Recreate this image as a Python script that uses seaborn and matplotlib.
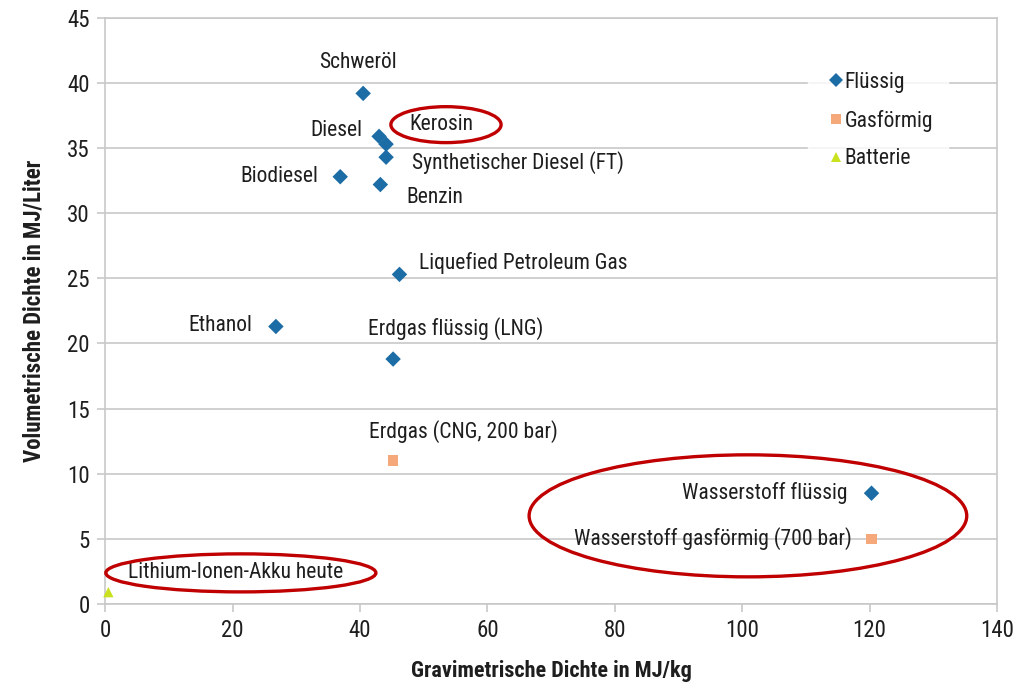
import pandas as pd
import matplotlib.pyplot as plt
import seaborn as sns
from matplotlib.patches import Ellipse
from matplotlib.lines import Line2D

# data
names = ['Schweröl', 'Diesel', 'Kerosin', 'Synthetischer Diesel (FT)', 'Biodiesel',
         'Benzin', 'Liquefied Petroleum Gas', 'Ethanol', 'Erdgas flüssig (LNG)',
         'Erdgas (CNG, 200 bar)', 'Wasserstoff flüssig',
         'Wasserstoff gasförmig (700 bar)', 'Lithium-Ionen-Akku heute']
grav = [40.5, 43.0, 44.1, 44.1, 36.9, 43.2, 46.2, 26.8, 45.2, 45.2, 120.3, 120.3, 0.5]
vol = [39.2, 35.9, 35.3, 34.3, 32.8, 32.2, 25.3, 21.3, 18.8, 11.0, 8.5, 5.0, 0.9]
state = ['Flüssig'] * 9 + ['Gasförmig', 'Flüssig', 'Gasförmig', 'Batterie']

# label offsets in points (dx, dy, ha)
offsets = [(-4, 22, 'center'), (-12, 4, 'right'), (17, 14, 'left'), (19, -4, 'left'),
           (-16, 0, 'right'), (19, -9, 'left'), (14, 8, 'left'), (-17, 1, 'right'),
           (-18, 22, 'left'), (-17, 21, 'left'), (-17, 0, 'right'), (-14, 0, 'right'),
           (14, 14, 'left')]

df = pd.DataFrame({'name': names, 'grav': grav, 'vol': vol, 'state': state})

colors = {'Flüssig': '#1c6da5', 'Gasförmig': '#f5a97b', 'Batterie': '#c9e11f'}
markers = {'Flüssig': 'D', 'Gasförmig': 's', 'Batterie': '^'}

sns.set_style('white')
plt.rcParams['font.family'] = ['Liberation Sans Narrow', 'Roboto Condensed',
                               'Liberation Sans', 'DejaVu Sans']

fig = plt.figure(figsize=(10.21, 6.87), dpi=100)
ax = fig.add_axes([0.103, 0.121, 0.8735, 0.853])

for st in ['Flüssig', 'Gasförmig', 'Batterie']:
    sub = df[df['state'] == st]
    sns.scatterplot(data=sub, x='grav', y='vol', marker=markers[st], color=colors[st],
                    s=62 if st == 'Flüssig' else 55, edgecolor='none', ax=ax,
                    legend=False, zorder=3, clip_on=False)

for i, row in df.iterrows():
    dx, dy, ha = offsets[i]
    ax.annotate(row['name'], (row['grav'], row['vol']), xytext=(dx, dy),
                textcoords='offset points', ha=ha, va='center',
                fontsize=15.5, color='#1e1e1e')

ax.set_xlim(0, 140)
ax.set_ylim(0, 45)
ax.set_xticks(range(0, 141, 20))
ax.set_yticks(range(0, 46, 5))
ax.yaxis.grid(True, color='#c8c8c8', lw=1.2)
ax.xaxis.grid(False)
for sp in ax.spines.values():
    sp.set_color('#c8c8c8')
    sp.set_linewidth(1.2)
ax.tick_params(axis='both', which='major', length=6, width=1.2, color='#c8c8c8',
               labelsize=16.5, labelcolor='#1e1e1e', direction='out', pad=5,
               bottom=True, left=True)
ax.set_xlabel('Gravimetrische Dichte in MJ/kg', fontsize=16, fontweight='bold',
              color='#1e1e1e', labelpad=13)
ax.set_ylabel('Volumetrische Dichte in MJ/Liter', fontsize=16.5, fontweight='bold',
              color='#1e1e1e', labelpad=16)

handles = [Line2D([], [], ls='none', marker=markers[k], color=colors[k],
                  markersize=7 if k != 'Flüssig' else 7.5, markeredgewidth=0)
           for k in colors]
leg = ax.legend(handles, list(colors.keys()), loc='upper left',
                bbox_to_anchor=(0.776, 0.952), frameon=True, fontsize=15.5,
                labelspacing=0.78, handletextpad=-0.2, handlelength=1.2,
                borderpad=0.7)
leg.get_frame().set_facecolor('white')
leg.get_frame().set_edgecolor('white')
for t in leg.get_texts():
    t.set_color('#1e1e1e')

# red highlight ellipses (center x, center y, width, height in data units)
ell_cx = [53.5, 100.9, 21.3]
ell_cy = [36.8, 6.76, 2.38]
ell_w = [17.3, 68.7, 42.4]
ell_h = [2.76, 9.37, 2.92]
for cx, cy, w, h in zip(ell_cx, ell_cy, ell_w, ell_h):
    ax.add_patch(Ellipse((cx, cy), w, h, fill=False, edgecolor='#c00000',
                         lw=2.4, zorder=4, clip_on=False))

fig.savefig('out.png', dpi=100)
